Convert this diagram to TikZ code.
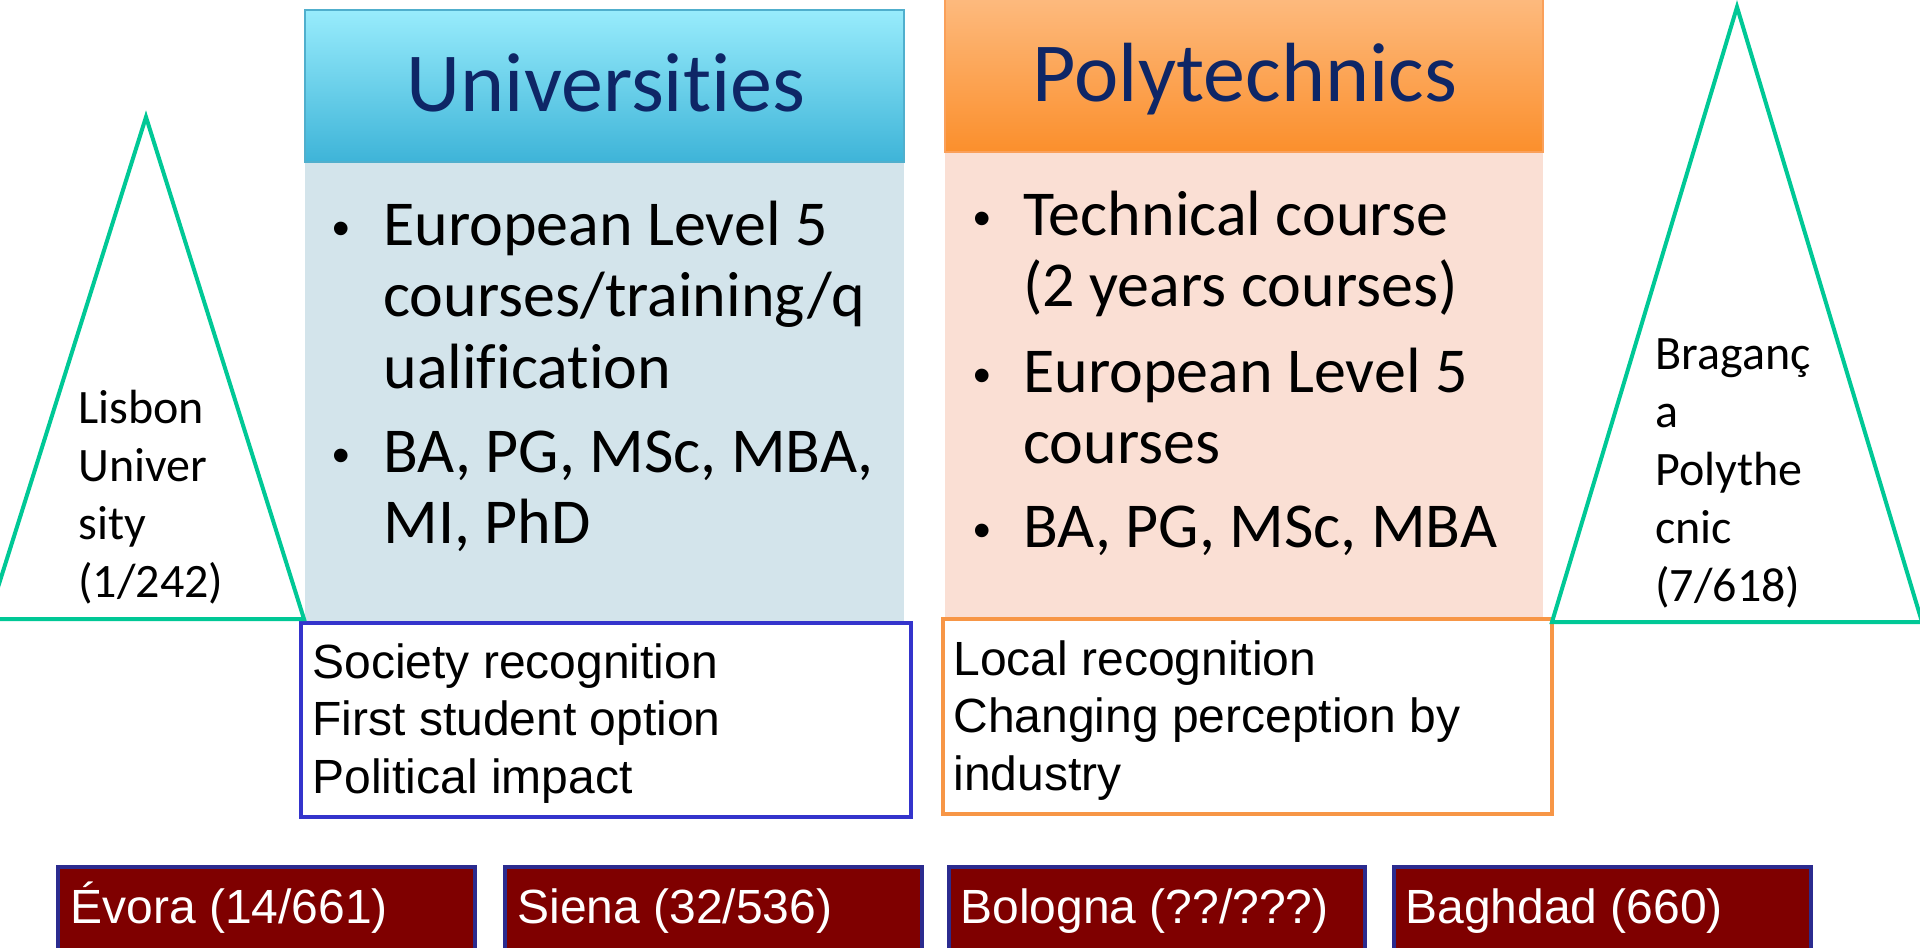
\documentclass[tikz,border=0pt]{standalone}
\usepackage{fontspec}
\setmainfont{Carlito}[Ligatures={NoCommon}]
\newfontfamily\arialf{Liberation Sans}[Ligatures={NoCommon}]
\definecolor{uniTop}{RGB}{152,236,252}
\definecolor{uniBot}{RGB}{62,180,216}
\definecolor{uniEdge}{RGB}{80,175,205}
\definecolor{uniBody}{RGB}{211,228,235}
\definecolor{polyTop}{RGB}{253,186,126}
\definecolor{polyBot}{RGB}{251,143,44}
\definecolor{polyEdge}{RGB}{250,160,90}
\definecolor{polyBody}{RGB}{250,223,212}
\definecolor{navy}{RGB}{14,38,102}
\definecolor{trigreen}{RGB}{0,200,150}
\definecolor{boxblue}{RGB}{52,52,204}
\definecolor{boxorange}{RGB}{247,150,70}
\definecolor{cityred}{RGB}{127,0,0}
\definecolor{cityborder}{RGB}{43,43,143}
\newcommand\vlines[1]{\vtop{\halign{##\hfil\cr#1\crcr}}}
\tikzset{
  titletext/.style={inner sep=0pt, anchor=base, text=navy, font=\fontsize{42}{50}\selectfont},
  bultext/.style={inner sep=0pt, anchor=base west, font=\fontsize{32}{35.75}\selectfont},
  bulmark/.style={inner sep=0pt, anchor=base west, font=\arialf\fontsize{25}{30}\selectfont},
  tritext/.style={inner sep=0pt, anchor=base west, font=\fontsize{24}{29}\selectfont},
  arialtext/.style={inner sep=0pt, anchor=base west, font=\arialf\fontsize{24}{28.75}\selectfont},
  citytext/.style={inner sep=0pt, anchor=base west, text=white, font=\arialf\fontsize{24}{28.75}\selectfont},
  tri/.style={draw=trigreen, line width=2pt},
  citybox/.style={fill=cityred, draw=cityborder, line width=2pt},
}
\begin{document}
\begin{tikzpicture}[x=0.5pt,y=-0.5pt]
\useasboundingbox (0,0) rectangle (1920,947);
\clip (0,0) rectangle (1920,947);
% Universities column
\fill[uniBody] (305,162) rectangle (904,623);
\shade[top color=uniTop, bottom color=uniBot, draw=uniEdge, line width=0.6pt] (305,10) rectangle (904,162);
\node[titletext] (unititle) at (606,112) {Universities};
\node[bulmark] (ub1) at (332,245) {•};
\node[bultext] (ut1) at (383,245) {\vlines{European Level 5\cr courses/training/q\cr ualification}};
\node[bulmark] (ub2) at (332,472) {•};
\node[bultext] (ut2) at (383,472) {\vlines{BA, PG, MSc, MBA,\cr MI, PhD}};
% Polytechnics column
\fill[polyBody] (945,152) rectangle (1543,619);
\shade[top color=polyTop, bottom color=polyBot, draw=polyEdge, line width=0.6pt] (945,-2) rectangle (1543,152);
\node[titletext] (polytitle) at (1245,102) {Polytechnics};
\node[bulmark] (pb1) at (973,235) {•};
\node[bultext] (pt1) at (1023,235) {\vlines{Technical course\cr (2 years courses)}};
\node[bulmark] (pb2) at (973,392) {•};
\node[bultext] (pt2) at (1023,392) {\vlines{European Level 5\cr courses}};
\node[bulmark] (pb3) at (973,547) {•};
\node[bultext] (pt3) at (1023,547) {BA, PG, MSc, MBA};
% recognition boxes
\draw[draw=boxblue, line width=2pt, fill=white] (301,623) rectangle (911,817);
\node[arialtext] (unirec) at (312,678) {\vlines{Society recognition\cr First student option\cr Political impact}};
\draw[draw=boxorange, line width=2pt, fill=white] (943,619) rectangle (1552,814);
\node[arialtext] (polyrec) at (953,675) {\vlines{Local recognition\cr Changing perception by\cr industry}};
% triangles
\draw[tri] (146,117) -- (-12,619) -- (304,619) -- cycle;
\node[tritext] (lisbon) at (78,423) {\vlines{Lisbon\cr Univer\cr sity\cr (1/242)}};
\draw[tri] (1737,7) -- (1552,622) -- (1922,622) -- cycle;
\node[tritext] (braganca) at (1655,369) {\vlines{Braganç\cr a\cr Polythe\cr cnic\cr (7/618)}};
% city boxes
\draw[citybox] (58,867) rectangle (475,990);
\node[citytext] (evora) at (70,923) {Évora (14/661)};
\draw[citybox] (505,867) rectangle (922,990);
\node[citytext] (siena) at (517,923) {Siena (32/536)};
\draw[citybox] (949,867) rectangle (1365,990);
\node[citytext] (bologna) at (960,923) {Bologna (??/???)};
\draw[citybox] (1394,867) rectangle (1811,990);
\node[citytext] (baghdad) at (1405,923) {Baghdad (660)};
\end{tikzpicture}
\end{document}
